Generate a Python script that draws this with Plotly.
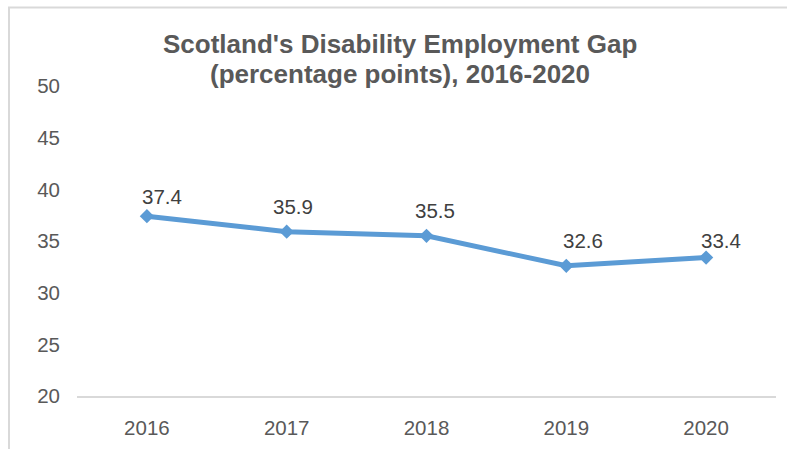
import plotly.graph_objects as go

years = ["2016", "2017", "2018", "2019", "2020"]
gap = [37.4, 35.9, 35.5, 32.6, 33.4]
y_ticks = [20, 25, 30, 35, 40, 45, 50]
title_lines = ["Scotland's Disability Employment Gap", "(percentage points), 2016-2020"]

# styling for label placement (pixel offsets from each point)
label_dx = [15, 6.5, 8, 17, 15]
label_dy = [20, 25, 25.5, 25.5, 17]

W, H = 787, 449
L, R, T, B = 77, 11, 86, 53
pw, ph = W - L - R, H - T - B

def px_x(p):
    return (p - L) / pw

def px_y(p):
    return (H - B - p) / ph

fig = go.Figure()
fig.add_trace(go.Scatter(
    x=years, y=gap, mode="lines+markers",
    line=dict(color="#5b9bd5", width=5),
    marker=dict(symbol="diamond", size=11, color="#5b9bd5"),
    hoverinfo="skip", showlegend=False,
))

for i, (yv, dx, dy) in enumerate(zip(gap, label_dx, label_dy)):
    fig.add_annotation(
        x=i, y=yv, xref="x", yref="y", text=f"{yv:.1f}", showarrow=False,
        xshift=dx, yshift=dy, xanchor="center", yanchor="middle",
        font=dict(family="Liberation Sans, Arial", size=20.5, color="#404040"),
    )

for line, cy in zip(title_lines, [44, 74]):
    fig.add_annotation(
        x=px_x(400), y=px_y(cy), xref="paper", yref="paper", text=f"<b>{line}</b>",
        showarrow=False, xanchor="center", yanchor="middle",
        font=dict(family="Liberation Sans, Arial", size=26, color="#595959"),
    )

# chart border (partially cropped in the reference)
fig.add_shape(type="rect", xref="paper", yref="paper",
              x0=px_x(9), x1=px_x(820), y0=px_y(480), y1=px_y(7.5),
              line=dict(color="#d9d9d9", width=2), fillcolor="rgba(0,0,0,0)", layer="below")

fig.update_layout(
    width=W, height=H,
    margin=dict(l=L, r=R, t=T, b=B),
    paper_bgcolor="white", plot_bgcolor="white",
    font=dict(family="Liberation Sans, Arial", size=20.5, color="#595959"),
    xaxis=dict(type="category", range=[-0.5, 4.5], showgrid=False, zeroline=False,
               showline=True, linecolor="#d9d9d9", linewidth=2, ticks="",
               ticklabelstandoff=12, tickfont=dict(size=20.5, color="#595959")),
    yaxis=dict(range=[20, 50], tickvals=y_ticks, showgrid=False, zeroline=False,
               showline=False, ticks="", ticklabelstandoff=16,
               tickfont=dict(size=20.5, color="#595959")),
)

fig.write_html("out.html")
